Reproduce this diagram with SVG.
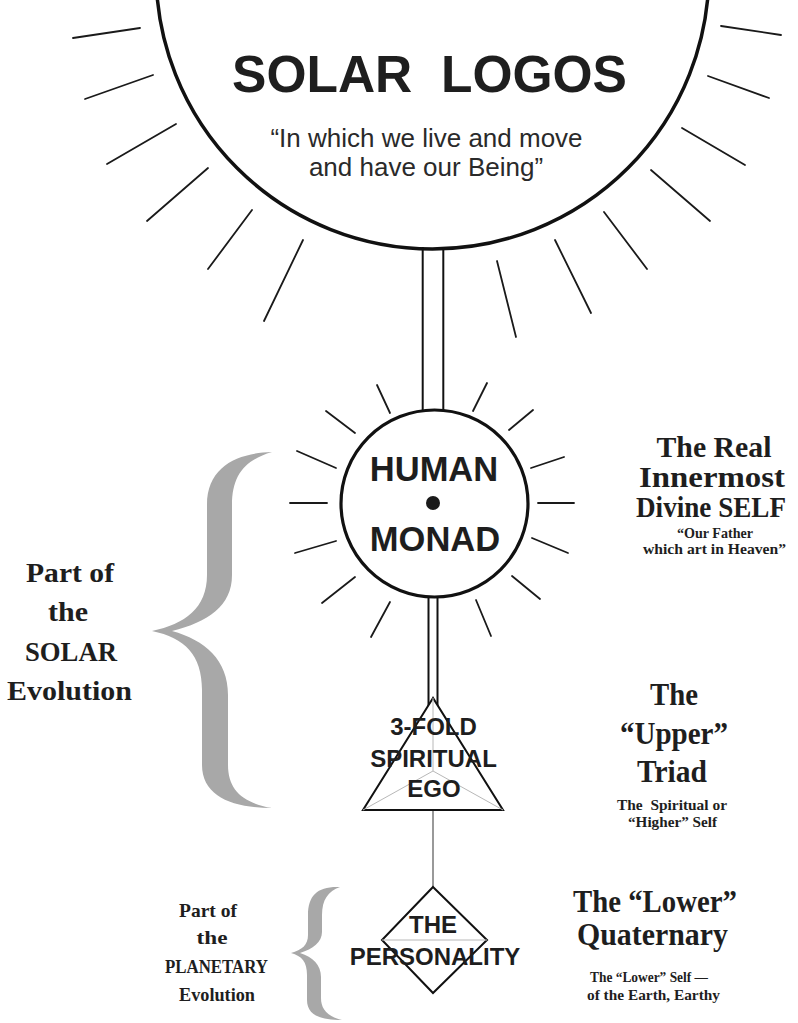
<svg xmlns="http://www.w3.org/2000/svg" width="798" height="1023" viewBox="0 0 798 1023">
<style>
.ray{stroke:#1a1a1a;stroke-width:1.8;stroke-linecap:round;fill:none}
.thick{stroke:#111;stroke-width:3.5;fill:#fff}
.pipe{stroke:#111;stroke-width:2;fill:none}
.sans{font-family:"Liberation Sans",Arial,sans-serif;font-weight:bold;fill:#1e1e1e;text-anchor:middle}
.sub{font-family:"Liberation Sans",Arial,sans-serif;fill:#2a2a2a;text-anchor:middle;font-size:26px}
.serif{font-family:"Liberation Serif","Times New Roman",serif;font-weight:bold;fill:#1e1e1e;text-anchor:middle}
.brace{fill:#a8a8a8}
.guide{stroke:#b8b8b8;stroke-width:1;fill:none}
</style>
<rect width="798" height="1023" fill="#fff"/>

<g id="solar-logos">
  <g>
    <line class="ray" x1="73" y1="38" x2="140" y2="28"/>
    <line class="ray" x1="85" y1="99" x2="153" y2="75"/>
    <line class="ray" x1="107" y1="164" x2="176" y2="124"/>
    <line class="ray" x1="147" y1="221" x2="208" y2="168"/>
    <line class="ray" x1="208" y1="269" x2="252" y2="210"/>
    <line class="ray" x1="264" y1="321" x2="303" y2="240"/>
    <line class="ray" x1="721" y1="26" x2="781" y2="35"/>
    <line class="ray" x1="708" y1="76" x2="769" y2="98"/>
    <line class="ray" x1="682" y1="128" x2="745" y2="165"/>
    <line class="ray" x1="651" y1="170" x2="710" y2="221"/>
    <line class="ray" x1="604" y1="212" x2="647" y2="269"/>
    <line class="ray" x1="555" y1="240" x2="591" y2="313"/>
    <line class="ray" x1="497" y1="261" x2="516" y2="337"/>
  </g>
  <circle class="thick" cx="432.5" cy="-27.4" r="276.4"/>
  <text class="sans" x="429.5" y="92" font-size="51.5" xml:space="preserve">SOLAR  LOGOS</text>
  <text class="sub" x="426.5" y="147">“In which we live and move</text>
  <text class="sub" x="426" y="176">and have our Being”</text>
</g>

<g id="connectors">
  <line class="pipe" x1="422.7" y1="247" x2="422.7" y2="411"/>
  <line class="pipe" x1="443.3" y1="247" x2="443.3" y2="411"/>
  <line class="pipe" x1="428.5" y1="596" x2="428.5" y2="706"/>
  <line class="pipe" x1="437.5" y1="596" x2="437.5" y2="706"/>
  <line x1="433" y1="810" x2="433" y2="887" stroke="#555" stroke-width="1.2"/>
</g>

<g id="human-monad">
  <g>
    <line class="ray" x1="377" y1="385" x2="390" y2="413"/>
    <line class="ray" x1="326" y1="411" x2="355" y2="433"/>
    <line class="ray" x1="297" y1="451" x2="336" y2="468"/>
    <line class="ray" x1="290" y1="503" x2="327" y2="503"/>
    <line class="ray" x1="295" y1="553" x2="336" y2="541"/>
    <line class="ray" x1="322" y1="603" x2="355" y2="577"/>
    <line class="ray" x1="371" y1="637" x2="390" y2="602"/>
    <line class="ray" x1="473" y1="411" x2="487" y2="383"/>
    <line class="ray" x1="509" y1="430" x2="533" y2="410"/>
    <line class="ray" x1="531" y1="468" x2="564" y2="457"/>
    <line class="ray" x1="538" y1="503" x2="574" y2="503"/>
    <line class="ray" x1="532" y1="538" x2="568" y2="553"/>
    <line class="ray" x1="512" y1="576" x2="540" y2="599"/>
    <line class="ray" x1="476" y1="600" x2="491" y2="636"/>
  </g>
  <circle cx="434.5" cy="503.5" r="93.5" fill="#fff" stroke="#111" stroke-width="3.2"/>
  <circle cx="433" cy="503" r="7" fill="#1a1a1a"/>
  <text class="sans" x="434" y="481" font-size="34.5">HUMAN</text>
  <text class="sans" x="435" y="551" font-size="34.5">MONAD</text>
</g>

<g id="spiritual-ego">
  <polygon points="433,698 363,810 503,810" fill="#fff" stroke="#111" stroke-width="2"/>
  <polyline class="guide" points="433,698 433,771"/>
  <polyline class="guide" points="363,810 433,771 503,810"/>
  <text class="sans" x="433.5" y="735" font-size="24">3-FOLD</text>
  <text class="sans" x="433.5" y="767" font-size="24">SPIRITUAL</text>
  <text class="sans" x="434" y="797" font-size="24">EGO</text>
</g>

<g id="personality">
  <polygon points="433,887 487,940 433,993 382,940" fill="#fff" stroke="#111" stroke-width="2"/>
  <line class="guide" x1="382" y1="940" x2="487" y2="940"/>
  <text class="sans" x="433" y="933" font-size="24">THE</text>
  <text class="sans" x="435" y="965" font-size="24">PERSONALITY</text>
</g>

<g id="monad-label">
  <text class="serif" x="714" y="457" font-size="30" textLength="115" lengthAdjust="spacingAndGlyphs">The Real</text>
  <text class="serif" x="712" y="487" font-size="30" textLength="146" lengthAdjust="spacingAndGlyphs">Innermost</text>
  <text class="serif" x="711" y="517" font-size="28.5" textLength="150" lengthAdjust="spacingAndGlyphs">Divine SELF</text>
  <text class="serif" x="715" y="538" font-size="14.5" textLength="76" lengthAdjust="spacingAndGlyphs">“Our Father</text>
  <text class="serif" x="714.5" y="554" font-size="14.5" textLength="143" lengthAdjust="spacingAndGlyphs">which art in Heaven”</text>
</g>

<g id="triad-label">
  <text class="serif" x="674" y="705" font-size="31" textLength="48" lengthAdjust="spacingAndGlyphs">The</text>
  <text class="serif" x="674" y="744" font-size="31" textLength="108" lengthAdjust="spacingAndGlyphs">“Upper”</text>
  <text class="serif" x="672" y="782" font-size="31" textLength="70" lengthAdjust="spacingAndGlyphs">Triad</text>
  <text class="serif" x="672" y="810" font-size="14.5" textLength="110" lengthAdjust="spacingAndGlyphs" xml:space="preserve">The  Spiritual or</text>
  <text class="serif" x="672.5" y="827" font-size="14.5" textLength="89" lengthAdjust="spacingAndGlyphs">“Higher” Self</text>
</g>

<g id="quaternary-label">
  <text class="serif" x="655" y="912" font-size="31" textLength="164" lengthAdjust="spacingAndGlyphs">The “Lower”</text>
  <text class="serif" x="652.5" y="945" font-size="31" textLength="151" lengthAdjust="spacingAndGlyphs">Quaternary</text>
  <text class="serif" x="649" y="982" font-size="14.5" textLength="118" lengthAdjust="spacingAndGlyphs">The “Lower” Self —</text>
  <text class="serif" x="653.5" y="1000" font-size="14.5" textLength="133" lengthAdjust="spacingAndGlyphs">of the Earth, Earthy</text>
</g>

<g id="solar-evolution">
  <path class="brace" d="M272,452 C238,453 207,466 207,505 L207,575 C207,608 185,624 152,631 C185,638 202,655 202,690 L202,765 C202,796 232,808 272,808 C243,803 228,790 228,765 L228,695 C228,660 205,640 172,631 C208,622 232,606 232,575 L232,505 C232,475 245,460 272,452 Z"/>
  <text class="serif" x="70" y="582" font-size="27" textLength="88" lengthAdjust="spacingAndGlyphs">Part of</text>
  <text class="serif" x="68" y="621" font-size="27" textLength="40" lengthAdjust="spacingAndGlyphs">the</text>
  <text class="serif" x="71" y="661" font-size="27" textLength="92" lengthAdjust="spacingAndGlyphs">SOLAR</text>
  <text class="serif" x="69.5" y="700" font-size="27" textLength="125" lengthAdjust="spacingAndGlyphs">Evolution</text>
</g>

<g id="planetary-evolution">
  <path class="brace" d="M340,887 C318,886 308,895 308,915 L308,935 C308,945 302,950 291,953 C302,956 307,962 307,975 L307,1000 C307,1015 320,1020 342,1020 C326,1016 321,1008 321,998 L321,977 C321,965 313,957 300,953 C313,949 322,942 322,932 L322,915 C322,900 328,891 340,887 Z"/>
  <text class="serif" x="208" y="917" font-size="19" textLength="58" lengthAdjust="spacingAndGlyphs">Part of</text>
  <text class="serif" x="212" y="944" font-size="19" textLength="31" lengthAdjust="spacingAndGlyphs">the</text>
  <text class="serif" x="216.5" y="973" font-size="19" textLength="103" lengthAdjust="spacingAndGlyphs">PLANETARY</text>
  <text class="serif" x="217" y="1001" font-size="19" textLength="76" lengthAdjust="spacingAndGlyphs">Evolution</text>
</g>
</svg>
